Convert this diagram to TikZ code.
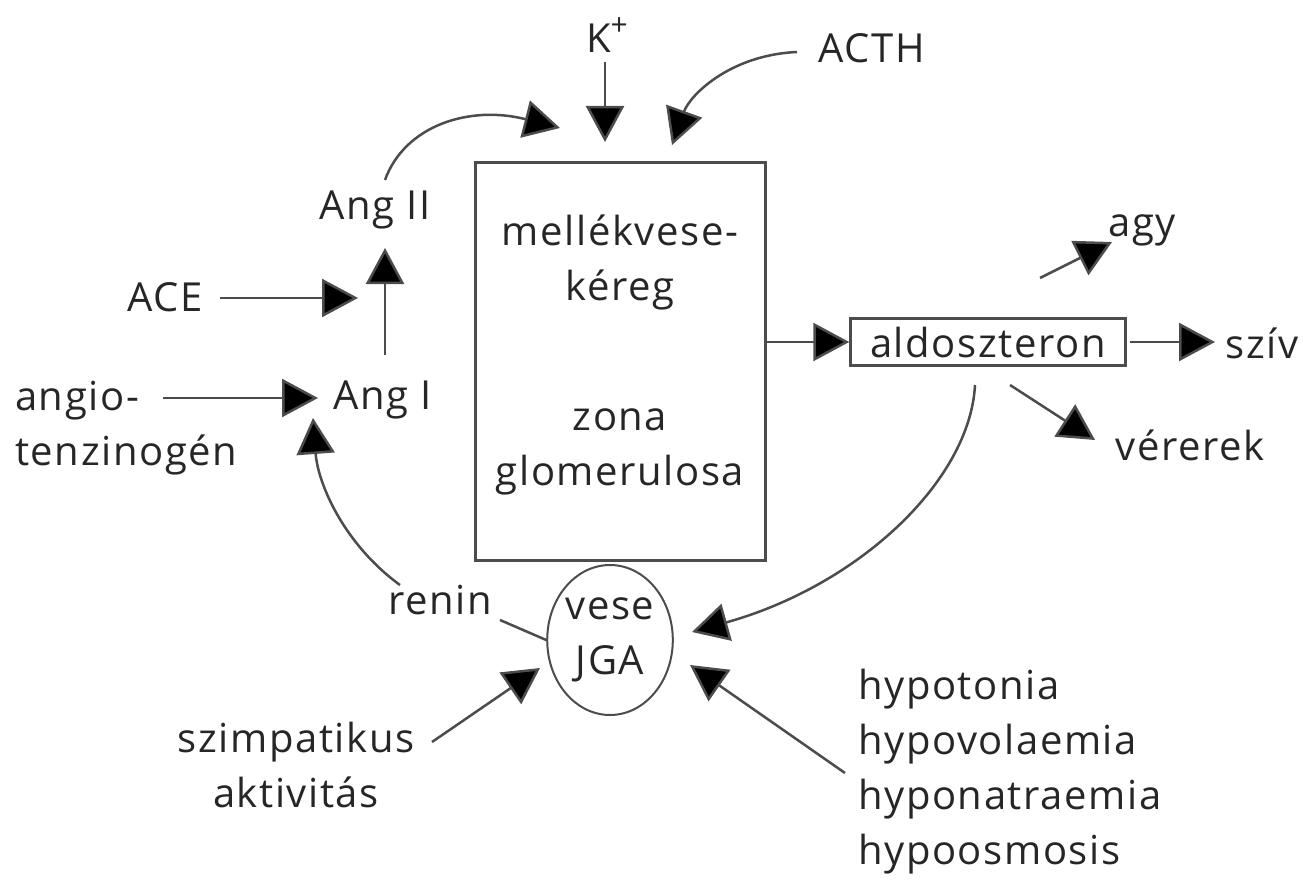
\documentclass[tikz,border=0pt]{standalone}
\usepackage{fontspec}
\setmainfont{Open Sans}[LetterSpace=4]
\usetikzlibrary{arrows.meta,shapes.geometric}
\begin{document}
\begin{tikzpicture}[x=1pt,y=-1pt,
  font=\fontsize{40}{55}\selectfont,
  line/.style={draw=black!70, line width=2.5pt},
  arr/.style={line, -{Triangle[length=36pt,width=38pt,fill=black]}},
  lbl/.style={inner sep=0pt, align=center, text=black!85},
  frame/.style={draw=black!70, line width=3pt, fill=none}]
\useasboundingbox (0,0) rectangle (1303,885);
% text nodes
\node[lbl] (K) at (607,35) {K\raisebox{0.42em}{\fontsize{30}{30}\selectfont +}};
\node[lbl] (ACTH) at (872,48) {ACTH};
\node[lbl] (AngII) at (375,210) {Ang II};
\node[lbl] (ACE) at (165,297) {ACE};
\node[lbl] (AngI) at (383,400) {Ang I};
\node[lbl, align=left, anchor=west] (angio) at (15,428) {angio-\\tenzinogén};
\node[frame, minimum width=290pt, minimum height=397pt, inner sep=0pt] (box) at (620,361.5) {};
\node[lbl] (mk) at (620,262) {mellékvese-\\kéreg};
\node[lbl] (zg) at (620,452) {zona\\glomerulosa};
\node[frame, line width=2.5pt, minimum width=275pt, minimum height=47pt, inner sep=0pt, text=black!85] (ald) at (988,342) {aldoszteron};
\node[lbl] (agy) at (1142,230) {agy};
\node[lbl] (sziv) at (1262,343) {szív};
\node[lbl] (ver) at (1190,445) {vérerek};
\node[ellipse, draw=black!70, line width=2pt, minimum width=110pt, minimum height=150pt, inner sep=0pt, align=center, text=black!85] (jga) at (610,640) {vese\\JGA};
\node[lbl] (renin) at (440,600) {renin};
\node[lbl] (szimp) at (296,765) {szimpatikus\\aktivitás};
\node[lbl, align=left, anchor=west] (hypo) at (858,772) {hypotonia\\hypovolaemia\\hyponatraemia\\hypoosmosis};
% connector end points
\coordinate (kst) at (605,62);      \coordinate (kin) at (605,142);
\coordinate (acthst) at (797,52);   \coordinate (acthin) at (672,145);
\coordinate (angIIst) at (385,180); \coordinate (angin) at (560,128);
\coordinate (acest) at (220,298);   \coordinate (acein) at (358,298);
\coordinate (angIst) at (385,355);  \coordinate (angIIin) at (385,248);
\coordinate (angst) at (163,398);   \coordinate (angiin) at (318,398);
\coordinate (reninst) at (400,585); \coordinate (reninin) at (313,418);
\coordinate (reninln) at (500,620);
\coordinate (agyst) at (1040,278);  \coordinate (agyin) at (1112,242);
\coordinate (szst) at (1130,342);   \coordinate (szin) at (1215,342);
\coordinate (verst) at (1010,385);  \coordinate (verin) at (1095,440);
\coordinate (aldst) at (975,385);   \coordinate (jgaR) at (692,632);
\coordinate (szimpst) at (432,742); \coordinate (jgaL) at (540,668);
\coordinate (hypost) at (845,773);  \coordinate (jgaR2) at (690,665);
% connectors
\draw[arr] (kst) -- (kin);
\draw[arr] (acthst) .. controls (730,55) and (690,95) .. (acthin);
\draw[arr] (angIIst) .. controls (405,125) and (470,105) .. (angin);
\draw[arr] (acest) -- (acein);
\draw[arr] (angIst) -- (angIIin);
\draw[arr] (angst) -- (angiin);
\draw[arr] (reninst) .. controls (345,545) and (318,485) .. (reninin);
\draw[line] (reninln) -- (jga.west);
\draw[arr] (box.east |- ald.west) -- (ald.west);
\draw[arr] (agyst) -- (agyin);
\draw[arr] (szst) -- (szin);
\draw[arr] (verst) -- (verin);
\draw[arr] (aldst) .. controls (970,480) and (860,585) .. (jgaR);
\draw[arr] (szimpst) -- (jgaL);
\draw[arr] (hypost) -- (jgaR2);
\end{tikzpicture}
\end{document}
